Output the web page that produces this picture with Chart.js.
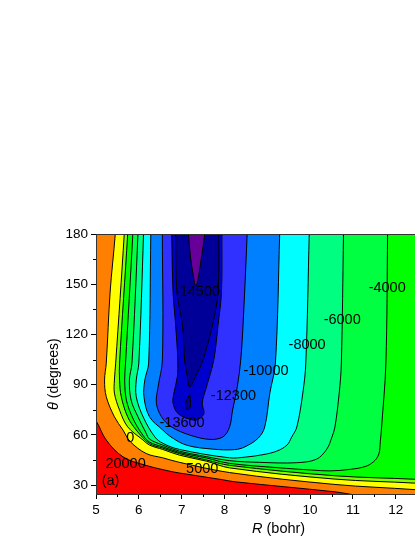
<!DOCTYPE html>
<html>
<head>
<meta charset="utf-8">
<script src="https://cdn.jsdelivr.net/npm/chart.js@4/dist/chart.umd.min.js"></script>
<style>
  html, body { margin: 0; padding: 0; background: #fff; }
  canvas { display: block; }
</style>
</head>
<body>
<canvas id="chart" width="415" height="537"></canvas>
<script>
// contours, [R, theta]. ends run past the frame so the fill closes outside it
const outerRegion = [[4.8, 190], [13, 190], [13, 20], [4.8, 20], [4.8, 190]];
const contour20000 = [[4.9, 70], [5, 68.4], [5.24, 56.9], [5.63, 46.9], [6.14, 42], [6.8, 37.9], [7.11, 36.6], [7.96, 33.2], [8.24, 32], [10.58, 26], [10.93, 24.6], [11.2, 23.5], [4.9, 23.5], [4.9, 70]];
const contour5000 = [[5.45, 185], [5.45, 180], [5.33, 145.3], [5.24, 102.9], [5.2, 92.75], [5.24, 82.8], [5.43, 70.8], [5.63, 62.9], [5.8, 56], [6.17, 48.9], [6.56, 46.3], [6.95, 43.6], [8.12, 37.5], [10.58, 30.4], [12.45, 27.3], [12.6, 26.6], [12.6, 185], [5.45, 185]];
const contour0 = [[5.66, 185], [5.66, 180], [5.46, 102.9], [5.43, 92.75], [5.43, 85], [5.55, 74.8], [5.74, 64.8], [6.1, 56.9], [6.25, 53.9], [6.56, 51.3], [6.95, 47.9], [7.58, 44.3], [8.12, 40.3], [10.58, 33.6], [12.45, 31.2], [12.6, 30.6], [12.6, 185], [5.66, 185]];
const contourM2000 = [[5.74, 185], [5.74, 180], [5.55, 102.9], [5.55, 92.75], [5.59, 82.8], [5.74, 70.8], [5.94, 62.9], [6.25, 54.8], [6.56, 52.1], [6.95, 48.8], [7.58, 45], [8.12, 41.8], [10.58, 35.6], [12.45, 33.5], [12.6, 33], [12.6, 185], [5.74, 185]];
const contourM4000 = [[5.86, 185], [5.86, 180], [5.69, 102.9], [5.67, 92.75], [5.71, 80.8], [5.86, 70], [6.06, 61.1], [6.25, 55.7], [6.56, 52.9], [6.95, 49.5], [7.58, 46.2], [8.12, 43], [9.25, 40.4], [10.04, 39], [10.46, 38.5], [10.93, 39.4], [11.32, 41.4], [11.52, 44.9], [11.61, 49], [11.64, 56], [11.67, 64.7], [11.77, 102.9], [11.81, 180], [11.81, 185], [5.86, 185]];
const contourM6000 = [[5.98, 185], [5.98, 180], [5.84, 102.9], [5.78, 92.75], [5.82, 80.8], [5.98, 70.8], [6.17, 61.1], [6.25, 57.5], [6.56, 53.9], [6.95, 50.3], [7.58, 47], [8.12, 44.6], [8.82, 43.6], [9.69, 43.4], [10.15, 45.5], [10.39, 51.5], [10.51, 58.7], [10.58, 64.7], [10.68, 85], [10.73, 102.9], [10.78, 180], [10.78, 185], [5.98, 185]];
const contourM8000 = [[6.11, 185], [6.11, 180], [6, 102.9], [5.94, 92.75], [5.94, 82.8], [6.1, 70.8], [6.37, 58.9], [6.56, 55], [6.95, 51.3], [8.12, 46.3], [8.48, 46.7], [8.9, 48.2], [9.22, 50.3], [9.46, 53.9], [9.57, 58.7], [9.69, 64.7], [9.83, 85], [9.9, 102.9], [9.98, 180], [9.98, 185], [6.11, 185]];
const contourM10000 = [[6.28, 185], [6.28, 180], [6.23, 102.9], [6.14, 92.75], [6.12, 82.8], [6.25, 70.8], [6.56, 62.9], [6.72, 59.3], [7.11, 53.9], [7.73, 51.5], [8.24, 51.2], [8.48, 52.9], [8.79, 58.1], [8.94, 64.7], [9.06, 85], [9.19, 102.9], [9.29, 180], [9.29, 185], [6.28, 185]];
const contourM12300 = [[6.55, 185], [6.55, 180], [6.55, 104.7], [6.45, 88.7], [6.41, 79], [6.53, 70.8], [6.76, 64.8], [7.19, 59.9], [7.66, 57.3], [7.97, 58.9], [8.12, 64.8], [8.19, 74.8], [8.3, 88.7], [8.38, 104.7], [8.44, 128.6], [8.53, 180], [8.53, 185], [6.55, 185]];
const contourM13600 = [[6.77, 185], [6.77, 180], [6.8, 145.3], [6.86, 125.6], [6.91, 104.7], [6.9, 94.7], [6.82, 85], [6.8, 79], [6.91, 72.9], [7.19, 69.4], [7.37, 69.1], [7.52, 72.9], [7.48, 79], [7.58, 88.7], [7.75, 104.7], [7.85, 125.6], [7.93, 145.3], [7.94, 180], [7.94, 185], [6.77, 185]];
const contourM14500 = [[6.86, 185], [6.86, 180], [6.89, 145.3], [7.02, 125.6], [7.07, 104.7], [7.12, 96.8], [7.19, 88.7], [7.36, 96.8], [7.5, 104.7], [7.72, 125.6], [7.85, 145.3], [7.87, 180], [7.87, 185], [6.86, 185]];
const contourIsland = [[7.19, 84.2], [7.12, 80.8], [7.09, 77.8], [7.13, 74.8], [7.19, 76], [7.21, 79], [7.19, 84.2]];
const contourCore = [[7.16, 185], [7.16, 180], [7.21, 165.7], [7.27, 155.5], [7.33, 148.9], [7.4, 155.5], [7.46, 165.7], [7.54, 180], [7.54, 185], [7.16, 185]];

// painted in this order, outer bands first
const regions = [
  [outerRegion, '#ff8000'],
  [contour20000, '#ff0000'],
  [contour5000, '#ffff00'],
  [contour0, '#80ff00'],
  [contourM2000, '#00ff00'],
  [contourM4000, '#00ff40'],
  [contourM6000, '#00ff80'],
  [contourM8000, '#00ffff'],
  [contourM10000, '#0080ff'],
  [contourM12300, '#3030ff'],
  [contourM13600, '#0000cc'],
  [contourM14500, '#000099'],
  [contourIsland, '#000099'],
  [contourCore, '#660099']
];

const levelLabels = ['-14500', '-13600', '-12300', '-10000', '-8000', '-6000', '-4000', '20000', '5000', '0', '(a)'];
const levelLabelR = [7.37, 7.01, 8.21, 8.97, 9.93, 10.75, 11.8, 5.69, 7.48, 5.8, 5.34];
const levelLabelTheta = [145.3, 67, 83.2, 98.1, 113.7, 128.6, 147.5, 42.6, 39.4, 57.9, 32.6];

const yTicks = [30, 60, 90, 120, 150, 180];
const xMinor = [5.5, 6.5, 7.5, 8.5, 9.5, 10.5, 11.5, 12.5];
const yMinor = [45, 75, 105, 135, 165];

const FONT = '"Liberation Sans", Arial, sans-serif';

// minor ticks, contour labels and the mixed italic axis titles
const annotations = {
  id: 'annotations',
  afterDraw(chart) {
    const { ctx, scales } = chart;
    const { x, y } = scales;
    ctx.save();
    ctx.strokeStyle = '#000';
    ctx.lineWidth = 1;
    ctx.beginPath();
    xMinor.forEach(v => {
      if (v > x.max) return;
      const px = Math.round(x.getPixelForValue(v)) + 0.5;
      ctx.moveTo(px, y.bottom);
      ctx.lineTo(px, y.bottom + 3);
    });
    yMinor.forEach(v => {
      const py = Math.round(y.getPixelForValue(v)) + 0.5;
      ctx.moveTo(x.left, py);
      ctx.lineTo(x.left - 3, py);
    });
    ctx.stroke();

    ctx.fillStyle = '#000';
    ctx.textAlign = 'center';
    ctx.textBaseline = 'middle';
    ctx.font = '14.5px ' + FONT;
    levelLabels.forEach((t, i) => {
      ctx.fillText(t, x.getPixelForValue(levelLabelR[i]), y.getPixelForValue(levelLabelTheta[i]));
    });

    // x title
    ctx.textAlign = 'left';
    ctx.textBaseline = 'alphabetic';
    ctx.font = 'italic 14.5px ' + FONT;
    ctx.fillText('R', 252, 533);
    const rw = ctx.measureText('R').width;
    ctx.font = '14.5px ' + FONT;
    ctx.fillText(' (bohr)', 252 + rw, 533);

    // y title
    ctx.translate(58, 410);
    ctx.rotate(-Math.PI / 2);
    ctx.font = 'italic 14.5px ' + FONT;
    ctx.fillText('\u03b8', 0, 0);
    const tw = ctx.measureText('\u03b8').width;
    ctx.font = '14px ' + FONT;
    ctx.fillText(' (degrees)', tw, 0);
    ctx.restore();
  }
};

new Chart(document.getElementById('chart'), {
  type: 'scatter',
  data: {
    datasets: regions.map(([pts, color], i) => ({
      data: pts.map(p => ({ x: p[0], y: p[1] })),
      showLine: true,
      fill: 'shape',
      backgroundColor: color,
      borderColor: '#000',
      borderWidth: i === 0 ? 0 : 1,
      pointRadius: 0,
      tension: 0.35,
      order: regions.length - i
    }))
  },
  options: {
    responsive: false,
    animation: false,
    layout: { padding: { top: 234, left: 0, right: 0, bottom: 0 } },
    plugins: { legend: { display: false }, tooltip: { enabled: false } },
    scales: {
      x: {
        type: 'linear',
        min: 5,
        max: 12.45,
        afterFit(s) { s.height = 43; },
        afterBuildTicks(s) { s.ticks = [5, 6, 7, 8, 9, 10, 11, 12].map(v => ({ value: v })); },
        grid: { drawOnChartArea: false, tickLength: 5, tickColor: '#000' },
        border: { color: '#333', width: 1, z: 2 },
        ticks: { color: '#000', maxRotation: 0, font: { family: FONT, size: 13.5 }, padding: 3, autoSkip: false }
      },
      x2: {
        type: 'linear',
        position: 'top',
        min: 5,
        max: 12.45,
        afterFit(s) { s.height = 0; },
        grid: { drawOnChartArea: false, drawTicks: false },
        border: { color: '#333', width: 1, z: 2 },
        ticks: { display: false }
      },
      y: {
        type: 'linear',
        min: 24.7,
        max: 180,
        afterFit(s) { s.width = 96; },
        afterBuildTicks(s) { s.ticks = yTicks.map(v => ({ value: v })); },
        grid: { drawOnChartArea: false, tickLength: 5, tickColor: '#000' },
        border: { color: '#333', width: 1, z: 2 },
        ticks: { color: '#000', font: { family: FONT, size: 13.5 }, padding: 3, autoSkip: false }
      }
    }
  },
  plugins: [annotations]
});
</script>
</body>
</html>
